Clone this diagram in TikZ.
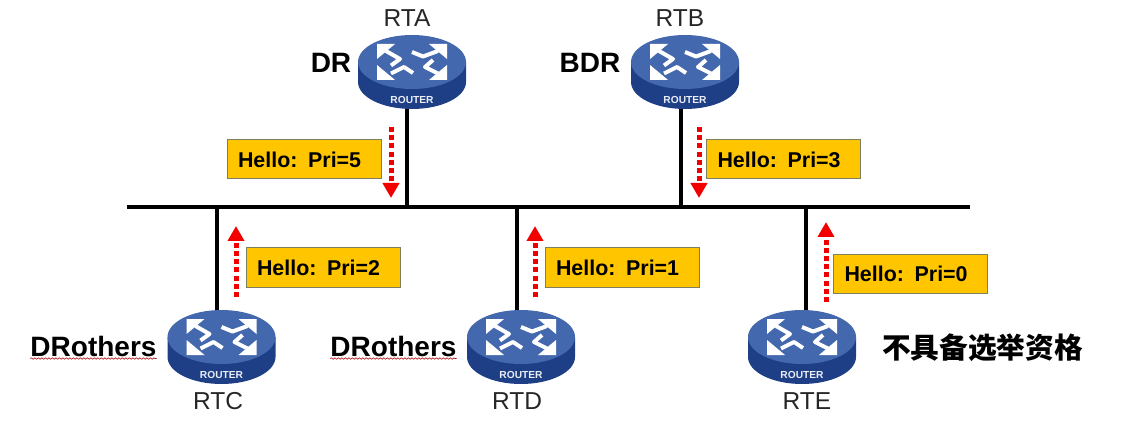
\documentclass[tikz,border=0pt]{standalone}
\usepackage{fontspec}
\setmainfont{Liberation Sans}
\newfontfamily\cjk{Noto Sans CJK SC}
\usetikzlibrary{arrows.meta,decorations.pathmorphing}
\definecolor{routerface}{HTML}{4468AE}
\definecolor{routerside}{HTML}{1E3F86}
\definecolor{hellofill}{HTML}{FFC600}
\definecolor{helloline}{HTML}{7F7F60}
\tikzset{%
  routerbox/.style = {inner sep=0pt, minimum width=108pt, minimum height=74pt},
  hostname/.style  = {inner sep=0pt, text=black!85, font=\fontsize{24.5}{26}\selectfont},
  role/.style      = {inner sep=0pt, font=\fontsize{28}{30}\selectfont\bfseries},
  hello/.style     = {draw=helloline, line width=1pt, fill=hellofill, inner ysep=0pt,
    inner xsep=11pt, text width=132pt, align=left, minimum height=39pt,
    font=\fontsize{21.4}{24}\selectfont\bfseries},
  bus/.style       = {line width=3.6pt},
  link/.style      = {line width=3.4pt},
  flow/.style      = {draw=red!95!black, line width=5pt, dash pattern=on 5pt off 3.2pt,
    -{Triangle[width=16pt,length=15pt,fill=red]}},
  squiggle/.style  = {draw=red!70!black, line width=0.6pt, decorate,
    decoration={snake, amplitude=0.7pt, segment length=3.5pt}},
  routericon/.pic  = {
    \fill[routerside] (-54,-10) -- (-54,10)
      arc[start angle=180, end angle=360, x radius=54pt, y radius=27pt] -- (54,-10) -- cycle;
    \fill[routerface] (0,-10) ellipse [x radius=54pt, y radius=27pt];
    \foreach \sx/\sy/\ax/\ay/\bx/\by/\cx/\cy in
      {-1/-1/-26/-21/-12/-13/-21/-6.5, 1/-1/26/-21/11/-15.5/0/-20,
       -1/1/-21/1.5/-8/-5/1/1, 1/1/26/1.5/13/-5/21/-12} {
      \draw[white, line width=4pt, line join=round]
        (\ax,\ay) -- (\bx,\by) -- (\cx,\cy);
      \fill[white] (\sx*35,\sy*18-10) -- ++(-\sx*18,0) -- ++(\sx*18,-\sy*15) -- cycle;
    }
    \node (caption) at (0,28) [inner sep=0pt, text=white!88!routerface,
      font=\fontsize{10.2}{11}\selectfont\bfseries] {ROUTER};
  }
}
\begin{document}
\begin{tikzpicture}[x=1pt, y=-1pt]
  \useasboundingbox (0,0) rectangle (1122,422);

  \coordinate (busl) at (127,207);
  \coordinate (busr) at (970,207);
  \draw[bus] (busl) -- (busr);

  % routers
  \draw node at (412,72) [routerbox] (rta) {};
  \draw node at (685,72) [routerbox] (rtb) {};
  \draw node at (221.5,347) [routerbox] (rtc) {};
  \draw node at (521,347) [routerbox] (rtd) {};
  \draw node at (802,347) [routerbox] (rte) {};

  \coordinate (tapa) at (407,207);
  \coordinate (tapb) at (681,207);
  \coordinate (tapc) at (217,207);
  \coordinate (tapd) at (517,207);
  \coordinate (tape) at (806,207);
  \draw[link] (tapa |- rta.south) -- (tapa);
  \draw[link] (tapb |- rtb.south) -- (tapb);
  \draw[link] (tapc |- rtc.north) -- (tapc);
  \draw[link] (tapd |- rtd.north) -- (tapd);
  \draw[link] (tape |- rte.north) -- (tape);

  \pic (icona) at (rta) {routericon};
  \pic (iconb) at (rtb) {routericon};
  \pic (iconc) at (rtc) {routericon};
  \pic (icond) at (rtd) {routericon};
  \pic (icone) at (rte) {routericon};

  \node at (407,18) [hostname] (hosta) {RTA};
  \node at (680,18) [hostname] (hostb) {RTB};
  \node at (218,401) [hostname] (hostc) {RTC};
  \node at (517,401) [hostname] (hostd) {RTD};
  \node at (807,401) [hostname] (hoste) {RTE};

  \node at (331,63) [role] (dr) {DR};
  \node at (590,63) [role] (bdr) {BDR};
  \node at (93.5,346) [role] (dro1) {DRothers};
  \node at (393.5,346) [role] (dro2) {DRothers};
  \node at (982.5,348) [role, font=\fontsize{28.7}{30}\selectfont\bfseries] (noelect) {\cjk\bfseries 不具备选举资格};
  \draw[squiggle] ([yshift=-2.5pt]dro1.base west) -- ([yshift=-2.5pt]dro1.base east);
  \draw[squiggle] ([yshift=-2.5pt]dro2.base west) -- ([yshift=-2.5pt]dro2.base east);

  % hello packets
  \node at (304,159.5) [hello] (hela) {Hello: Pri=5};
  \node at (783.5,159.5) [hello] (helb) {Hello: Pri=3};
  \node at (323,267.5) [hello] (helc) {Hello: Pri=2};
  \node at (622,267.5) [hello] (held) {Hello: Pri=1};
  \node at (910.5,274) [hello] (hele) {Hello: Pri=0};

  \coordinate (flowa1) at (391,127);
  \coordinate (flowa2) at (391,198);
  \coordinate (flowb1) at (699,127);
  \coordinate (flowb2) at (699,198);
  \coordinate (flowc1) at (236,297);
  \coordinate (flowc2) at (236,226);
  \coordinate (flowd1) at (535,297);
  \coordinate (flowd2) at (535,226);
  \coordinate (flowe1) at (826,302);
  \coordinate (flowe2) at (826,222);
  \draw[flow] (flowa1) -- (flowa2);
  \draw[flow] (flowb1) -- (flowb2);
  \draw[flow] (flowc1) -- (flowc2);
  \draw[flow] (flowd1) -- (flowd2);
  \draw[flow] (flowe1) -- (flowe2);
\end{tikzpicture}
\end{document}
